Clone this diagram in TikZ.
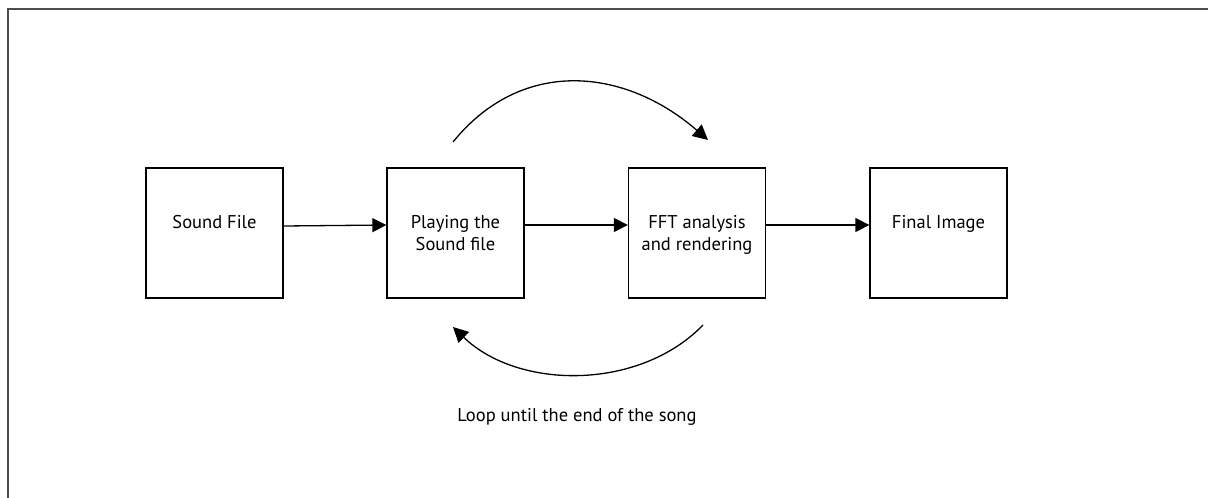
\documentclass[tikz,border=0pt]{standalone}
\usepackage{fontspec}
\setmainfont{PT Sans}
\usetikzlibrary{arrows.meta}
\begin{document}
\begin{tikzpicture}[x=1pt,y=-1pt,
  stepbox/.style={draw=black,line width=1.3pt,minimum width=137pt,minimum height=130pt,inner sep=0pt},
  lbl/.style={font=\fontsize{18.5}{22.5}\selectfont,align=center,inner sep=0pt,anchor=north},
  conn/.style={line width=1.3pt,-{Triangle[length=14pt,width=14pt]}},
  loop/.style={line width=1.3pt,-{Triangle[length=15pt,width=15pt]}}]
\useasboundingbox (0,0) rectangle (1208,498);
\draw[line width=2pt,black!70] (8,498) -- (8,9) -- (1208,9);
\node[stepbox] (b1) at (214.5,233) {};
\node[stepbox] (b2) at (455.5,233) {};
\node[stepbox] (b3) at (697,233) {};
\node[stepbox] (b4) at (938.5,233) {};
\node[lbl] (t1) at (214.5,215) {Sound File};
\node[lbl] (t2) at (455.5,215) {Playing the\\Sound file};
\node[lbl] (t3) at (697,215) {FFT analysis\\and rendering};
\node[lbl] (t4) at (938.5,215) {Final Image};
\draw[conn] ([yshift=7pt]b1.east) -- ([yshift=8pt]b2.west);
\draw[conn] ([yshift=8pt]b2.east) -- ([yshift=8pt]b3.west);
\draw[conn] ([yshift=8pt]b3.east) -- ([yshift=8pt]b4.west);
\coordinate (a1) at (453,142);
\coordinate (a2) at (708,140);
\coordinate (c1) at (703,325);
\coordinate (c2) at (453,327);
\draw[loop] (a1) to[out=51,in=139,looseness=1.1] (a2);
\draw[loop] (c1) to[out=-134,in=-44,looseness=0.93] (c2);
\node[font=\fontsize{18.5}{22.5}\selectfont,inner sep=0pt,anchor=base] (note) at (577,421) {Loop until the end of the song};
\end{tikzpicture}
\end{document}
